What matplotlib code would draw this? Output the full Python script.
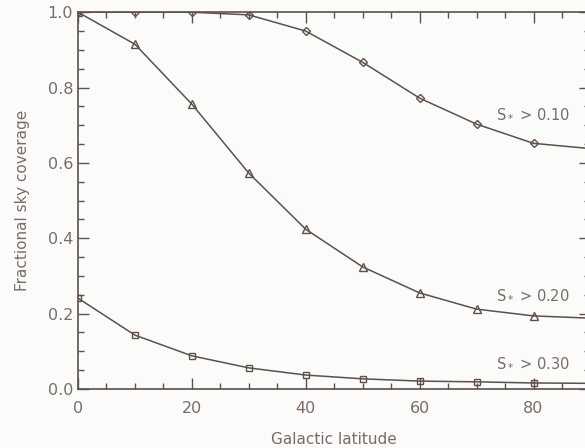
import numpy as np
import matplotlib.pyplot as plt
from matplotlib.ticker import MultipleLocator

# 銀緯 (degrees)
lat = [0, 10, 20, 30, 40, 50, 60, 70, 80, 90]
# 三條門檻的天空覆蓋率
cov_010 = [1.0, 1.0, 1.0, 0.993, 0.95, 0.867, 0.772, 0.703, 0.652, 0.638]
cov_020 = [1.0, 0.915, 0.756, 0.573, 0.424, 0.324, 0.255, 0.212, 0.194, 0.188]
cov_030 = [0.241, 0.143, 0.088, 0.056, 0.037, 0.027, 0.021, 0.019, 0.016, 0.015]
labels = ["S$_*$ > 0.10", "S$_*$ > 0.20", "S$_*$ > 0.30"]

ink = "#5e504c"
txt = "#7a6c68"

fig = plt.figure(figsize=(5.85, 4.48), dpi=100, facecolor="#fbfbf9")
ax = fig.add_axes([0.1333, 0.1317, 0.876, 0.841])
ax.set_facecolor("#fbfbf9")

ax.plot(lat[:-1], cov_010[:-1], color=ink, lw=1.1, marker="D", ms=4, mfc="none", mec=ink, mew=1)
ax.plot(lat[-2:], cov_010[-2:], color=ink, lw=1.1)
ax.plot(lat[:-1], cov_020[:-1], color=ink, lw=1.1, marker="^", ms=5.5, mfc="none", mec=ink, mew=1)
ax.plot(lat[-2:], cov_020[-2:], color=ink, lw=1.1)
ax.plot(lat[:-1], cov_030[:-1], color=ink, lw=1.1, marker="s", ms=5, mfc="none", mec=ink, mew=1)
ax.plot(lat[-2:], cov_030[-2:], color=ink, lw=1.1)

ax.text(73.4, 0.718, labels[0], color=txt, fontsize=10.5)
ax.text(73.4, 0.238, labels[1], color=txt, fontsize=10.5)
ax.text(73.4, 0.058, labels[2], color=txt, fontsize=10.5)

ax.set_xlim(0, 90)
ax.set_ylim(0, 1.0)
ax.xaxis.set_major_locator(MultipleLocator(20))
ax.xaxis.set_minor_locator(MultipleLocator(5))
ax.yaxis.set_major_locator(MultipleLocator(0.2))
ax.yaxis.set_minor_locator(MultipleLocator(0.05))
ax.yaxis.set_major_formatter(plt.FuncFormatter(lambda v, p: "%.1f" % v))
ax.tick_params(which="both", direction="in", top=True, right=True, colors=ink, labelcolor=txt, labelsize=11.5)
ax.tick_params(which="major", length=8, width=1)
ax.tick_params(which="minor", length=4, width=1)
ax.tick_params(axis="x", pad=9)
for s in ax.spines.values():
    s.set_color(ink)
    s.set_linewidth(1.2)

ax.set_xlabel("Galactic latitude", color=txt, fontsize=11, labelpad=11)
ax.set_ylabel("Fractional sky coverage", color=txt, fontsize=11, labelpad=13)

fig.savefig("out.png", dpi=100, facecolor=fig.get_facecolor())
